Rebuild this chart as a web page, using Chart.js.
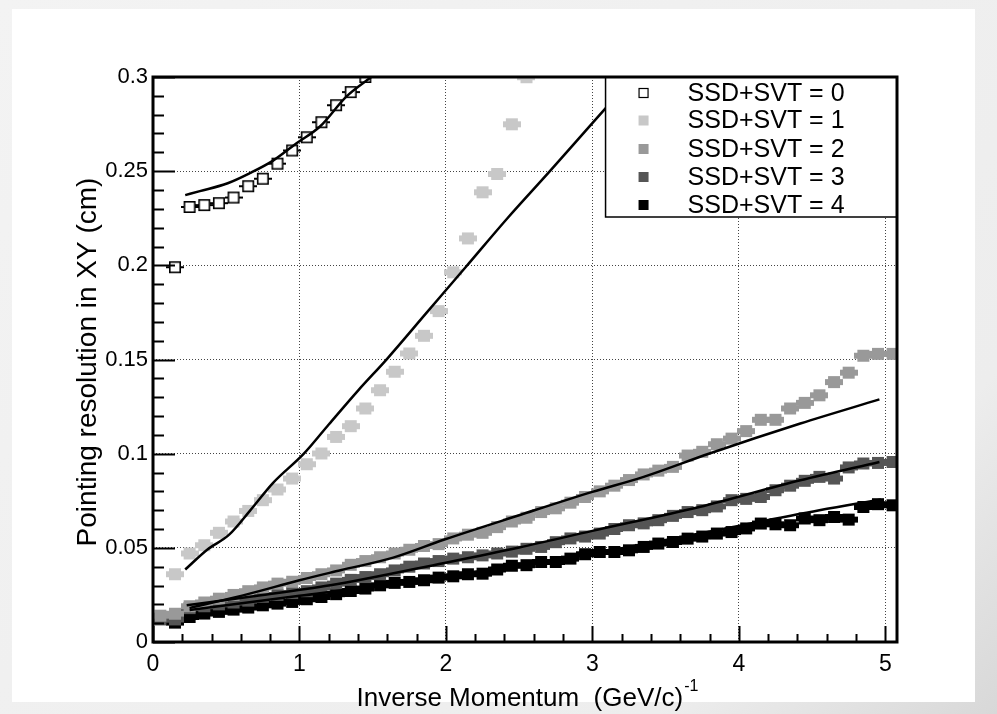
<!DOCTYPE html>
<html>
<head>
<meta charset="utf-8">
<title>Pointing resolution</title>
<script src="https://cdn.jsdelivr.net/npm/chart.js@4.4.1/dist/chart.umd.min.js"></script>
<style>
    html, body { margin: 0; padding: 0; }
    body { width: 997px; height: 714px; position: relative; overflow: hidden;
           background: linear-gradient(135deg, #f3f3f3 0%, #ededed 80%, #d8d8d8 100%); }
    #panel { position: absolute; left: 12px; top: 9px; width: 963px; height: 693px; background: #fff; }
    #wrap { position: absolute; left: 0; top: 0; width: 997px; height: 714px; }
</style>
</head>
<body>
<div id="panel"></div>
<div id="wrap"><canvas id="chartResolucion"></canvas></div>
<script>
// === Datos ===
// Momento inverso (GeV/c)^-1, centros de bin
const xDesde005 = [0.05, 0.15, 0.25, 0.35, 0.45, 0.55, 0.65, 0.75, 0.85, 0.95,
                   1.05, 1.15, 1.25, 1.35, 1.45, 1.55, 1.65, 1.75, 1.85, 1.95,
                   2.05, 2.15, 2.25, 2.35, 2.45, 2.55, 2.65, 2.75, 2.85, 2.95,
                   3.05, 3.15, 3.25, 3.35, 3.45, 3.55, 3.65, 3.75, 3.85, 3.95,
                   4.05, 4.15, 4.25, 4.35, 4.45, 4.55, 4.65, 4.75, 4.85, 4.95, 5.05];
const xDesde015 = xDesde005.slice(1);

// Resolución (cm) para cada número de impactos SSD+SVT
const yCero = [0.199, 0.231, 0.232, 0.233, 0.236, 0.242, 0.246, 0.254, 0.261, 0.268,
               0.276, 0.285, 0.292, 0.300];
const yUno = [0.036, 0.047, 0.0514, 0.058, 0.064, 0.0696, 0.0753, 0.081, 0.0868, 0.0944,
              0.1001, 0.1089, 0.1146, 0.124, 0.1337, 0.1435, 0.1532, 0.1626, 0.1757, 0.1963,
              0.2143, 0.2388, 0.2485, 0.2749, 0.2999];
const yDos = [0.014, 0.015, 0.019, 0.021, 0.023, 0.025, 0.027, 0.029, 0.031, 0.032,
              0.034, 0.036, 0.038, 0.041, 0.043, 0.045, 0.047, 0.049, 0.051, 0.052,
              0.055, 0.057, 0.058, 0.061, 0.064, 0.066, 0.069, 0.071, 0.074, 0.077,
              0.080, 0.083, 0.086, 0.089, 0.091, 0.093, 0.099, 0.101, 0.105, 0.108,
              0.112, 0.118, 0.118, 0.124, 0.127, 0.131, 0.138, 0.143, 0.152, 0.153, 0.153];
const yTres = [0.012, 0.012, 0.018, 0.019, 0.020, 0.021, 0.022, 0.024, 0.025, 0.026,
               0.027, 0.029, 0.031, 0.033, 0.0345, 0.036, 0.038, 0.040, 0.0417, 0.043,
               0.0443, 0.045, 0.046, 0.047, 0.048, 0.0495, 0.0505, 0.053, 0.055, 0.056,
               0.0576, 0.060, 0.062, 0.063, 0.0647, 0.067, 0.069, 0.070, 0.072, 0.0753,
               0.076, 0.077, 0.0806, 0.083, 0.0856, 0.0877, 0.0868, 0.0927, 0.0948, 0.0951, 0.0956];
const yCuatro = [0.0103, 0.0133, 0.0151, 0.016, 0.0172, 0.0183, 0.0195, 0.0204, 0.0213, 0.0227,
                 0.0239, 0.0254, 0.0271, 0.0284, 0.0301, 0.0314, 0.0319, 0.0328, 0.0342, 0.0349,
                 0.036, 0.0363, 0.0385, 0.0405, 0.0408, 0.0425, 0.0425, 0.0443, 0.0466, 0.0478,
                 0.0478, 0.0487, 0.0505, 0.0523, 0.0531, 0.0549, 0.056, 0.0576, 0.0584, 0.0603,
                 0.0629, 0.0625, 0.062, 0.0656, 0.0647, 0.0664, 0.065, 0.0717, 0.0732, 0.0726];

// Curvas de ajuste (x, y)
const ajusteX0 = [0.22, 0.32, 0.51, 0.66, 0.82, 0.98, 1.14, 1.32, 1.49];
const ajusteY0 = [0.2373, 0.2394, 0.2436, 0.2489, 0.2556, 0.2648, 0.2737, 0.2896, 0.300];
const ajusteX1 = [0.22, 0.37, 0.52, 0.66, 0.82, 1.03, 1.2, 1.4, 1.6, 1.87, 2.14, 2.42, 2.71, 3.0, 3.28];
const ajusteY1 = [0.0385, 0.049, 0.057, 0.0695, 0.0845, 0.100, 0.1155, 0.1335, 0.1505, 0.175, 0.1995, 0.225, 0.250, 0.2755, 0.300];
const ajusteX2 = [0.25, 0.66, 1.0, 1.28, 1.64, 1.99, 2.5, 3.0, 3.35, 3.8, 4.42, 4.96];
const ajusteY2 = [0.018, 0.0257, 0.0328, 0.0381, 0.0448, 0.0544, 0.0673, 0.0797, 0.0877, 0.1001, 0.116, 0.1288];
const ajusteX3 = [0.23, 0.66, 1.21, 1.99, 2.5, 3.0, 3.73, 4.42, 4.96];
const ajusteY3 = [0.0195, 0.024, 0.0301, 0.042, 0.0502, 0.059, 0.0717, 0.0859, 0.0956];
const ajusteX4 = [0.25, 1.0, 2.0, 3.0, 3.73, 4.55, 4.97];
const ajusteY4 = [0.017, 0.0245, 0.035, 0.047, 0.0576, 0.070, 0.0757];

const etiquetas = ['SSD+SVT = 0', 'SSD+SVT = 1', 'SSD+SVT = 2', 'SSD+SVT = 3', 'SSD+SVT = 4'];
const colores = ['#ffffff', '#c8c8c8', '#999999', '#555555', '#000000'];
const tituloY = 'Pointing resolution in XY (cm)';
const tituloX = 'Inverse Momentum  (GeV/c)';
const tituloXExp = '-1';

const FUENTE = '"Liberation Sans", Arial, Helvetica, sans-serif';

function pares(xs, ys) {
    return ys.map((y, i) => ({ x: xs[i], y: y }));
}

// Marcador cuadrado con pequeñas barras de error horizontales
function marcador(color, abierto) {
    const c = document.createElement('canvas');
    c.width = 18; c.height = 14;
    const g = c.getContext('2d');
    if (abierto) {
        g.fillStyle = '#000';
        g.fillRect(0, 6, 4, 2);
        g.fillRect(14, 6, 4, 2);
        g.fillStyle = '#fff';
        g.fillRect(3, 1, 12, 12);
        g.strokeStyle = '#000';
        g.lineWidth = 1.6;
        g.strokeRect(3.8, 1.8, 10.4, 10.4);
    } else {
        g.fillStyle = color;
        g.fillRect(3, 1, 12, 12);
        g.fillRect(0, 4, 18, 6);
    }
    return c;
}

function serie(xs, ys, idx) {
    return {
        label: etiquetas[idx],
        data: pares(xs, ys),
        pointStyle: marcador(colores[idx], idx === 0),
        pointRadius: 6,
        showLine: false,
        order: 1
    };
}

function ajuste(xs, ys) {
    return {
        label: 'ajuste',
        data: pares(xs, ys),
        showLine: true,
        pointRadius: 0,
        borderColor: '#000',
        borderWidth: 2.5,
        cubicInterpolationMode: 'monotone',
        order: 0
    };
}

// Marco, marcas interiores, leyenda y títulos al estilo ROOT
const marcoRoot = {
    id: 'marcoRoot',
    afterDraw(chart) {
        const ctx = chart.ctx;
        const { left, right, top, bottom } = chart.chartArea;
        const sx = chart.scales.x, sy = chart.scales.y;
        ctx.save();

        // Leyenda
        const lx0 = sx.getPixelForValue(3.09), ly1 = 217;
        ctx.fillStyle = '#fff';
        ctx.fillRect(lx0, top, right - lx0, ly1 - top);
        ctx.strokeStyle = '#000';
        ctx.lineWidth = 1.5;
        ctx.strokeRect(lx0, top, right - lx0, ly1 - top);
        const filas = [93, 120.5, 149, 177, 205];
        ctx.font = '25px ' + FUENTE;
        ctx.textBaseline = 'middle';
        ctx.textAlign = 'left';
        etiquetas.forEach((txt, i) => {
            const mx = lx0 + 38, my = filas[i];
            if (i === 0) {
                ctx.fillStyle = '#fff';
                ctx.fillRect(mx - 4.5, my - 4.5, 9, 9);
                ctx.lineWidth = 1.2;
                ctx.strokeRect(mx - 4.5, my - 4.5, 9, 9);
            } else {
                ctx.fillStyle = colores[i];
                ctx.fillRect(mx - 5, my - 5, 10, 10);
            }
            ctx.fillStyle = '#000';
            ctx.fillText(txt, lx0 + 82, my + 1);
        });

        // Marcas interiores del eje Y
        ctx.strokeStyle = '#000';
        ctx.lineWidth = 2;
        ctx.beginPath();
        for (let k = 0; k <= 30; k++) {
            const py = Math.round(sy.getPixelForValue(k / 100)) + 0.5;
            const largo = (k % 5 === 0) ? 22 : 11;
            ctx.moveTo(left, py);
            ctx.lineTo(left + largo, py);
        }
        // Marcas interiores del eje X
        for (let k = 0; k <= 25; k++) {
            const v = k / 5;
            if (v > sx.max) break;
            const px = Math.round(sx.getPixelForValue(v)) + 0.5;
            const largo = (k % 5 === 0) ? 16 : 8;
            ctx.moveTo(px, bottom);
            ctx.lineTo(px, bottom - largo);
        }
        ctx.stroke();

        // Marco
        ctx.lineWidth = 3;
        ctx.strokeRect(left, top, right - left, bottom - top);

        // Títulos de los ejes
        ctx.fillStyle = '#000';
        ctx.font = '28px ' + FUENTE;
        ctx.textAlign = 'center';
        ctx.textBaseline = 'alphabetic';
        ctx.save();
        ctx.translate(96, 362);
        ctx.rotate(-Math.PI / 2);
        ctx.fillText(tituloY, 0, 0);
        ctx.restore();

        ctx.textAlign = 'left';
        ctx.font = '26px ' + FUENTE;
        const anchoX = ctx.measureText(tituloX).width;
        ctx.font = '16px ' + FUENTE;
        const anchoExp = ctx.measureText(tituloXExp).width;
        const x0 = 527 - (anchoX + anchoExp) / 2;
        ctx.font = '26px ' + FUENTE;
        ctx.fillText(tituloX, x0, 706);
        ctx.font = '16px ' + FUENTE;
        ctx.fillText(tituloXExp, x0 + anchoX + 1, 691);
        ctx.restore();
    }
};

document.addEventListener('DOMContentLoaded', function () {
    try {
        const chartElement = document.getElementById('chartResolucion');
        Chart.defaults.font.family = FUENTE;
        new Chart(chartElement, {
            type: 'scatter',
            data: {
                datasets: [
                    ajuste(ajusteX0, ajusteY0),
                    ajuste(ajusteX1, ajusteY1),
                    ajuste(ajusteX2, ajusteY2),
                    ajuste(ajusteX3, ajusteY3),
                    ajuste(ajusteX4, ajusteY4),
                    serie(xDesde015.slice(0, yCero.length), yCero, 0),
                    serie(xDesde015.slice(0, yUno.length), yUno, 1),
                    serie(xDesde005, yDos, 2),
                    serie(xDesde005, yTres, 3),
                    serie(xDesde015, yCuatro, 4)
                ]
            },
            options: {
                responsive: true,
                maintainAspectRatio: false,
                animation: false,
                layout: { padding: { left: 0, right: 100, top: 77, bottom: 0 } },
                plugins: {
                    legend: { display: false },
                    tooltip: { enabled: false }
                },
                scales: {
                    x: {
                        type: 'linear',
                        min: 0,
                        max: 5.08,
                        afterFit: (s) => { s.height = 72; },
                        ticks: {
                            stepSize: 1,
                            includeBounds: false,
                            padding: 9,
                            color: '#000',
                            font: { size: 23 },
                            maxRotation: 0,
                            callback: (v) => String(v)
                        },
                        grid: { color: '#444', lineWidth: 1, drawTicks: false },
                        border: { display: false, dash: [1, 2] }
                    },
                    y: {
                        type: 'linear',
                        min: 0,
                        max: 0.3,
                        afterFit: (s) => { s.width = 153; },
                        ticks: {
                            stepSize: 0.05,
                            padding: 5,
                            color: '#000',
                            font: { size: 22 },
                            callback: (v) => String(Math.round(v * 100) / 100)
                        },
                        grid: { color: '#444', lineWidth: 1, drawTicks: false },
                        border: { display: false, dash: [1, 2] }
                    }
                }
            },
            plugins: [marcoRoot]
        });
    } catch (error) {
        console.error('Error al crear la gráfica de resolución:', error);
    }
});
</script>
</body>
</html>
